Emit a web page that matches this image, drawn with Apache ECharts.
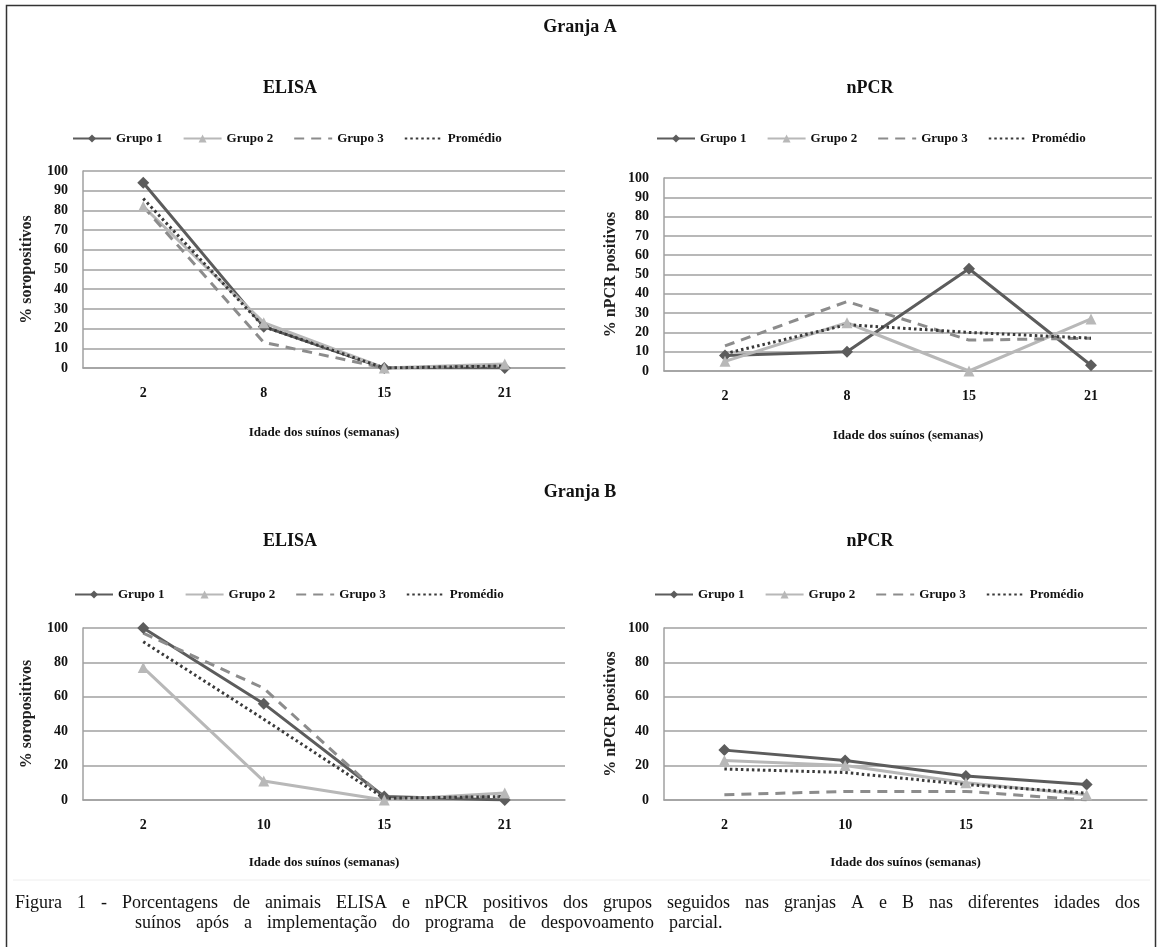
<!DOCTYPE html>
<html>
<head>
<meta charset="utf-8">
<script src="https://cdn.jsdelivr.net/npm/echarts@6/dist/echarts.min.js"></script>
<style>
  html, body { margin: 0; padding: 0; background: #fff; }
  #chart { width: 1161px; height: 947px; }
</style>
</head>
<body>
<div id="chart"></div>
<script>
// categorias (idade dos suínos, semanas)
const weeksA = ['2', '8', '15', '21'];
const weeksB = ['2', '10', '15', '21'];
const groupNames = ['Grupo 1', 'Grupo 2', 'Grupo 3', 'Promédio'];

// Granja A - ELISA
const elisaA_g1 = [94, 21, 0, 0];
const elisaA_g2 = [82, 23, 0, 2];
const elisaA_g3 = [82, 13, 0, 1];
const elisaA_med = [86, 21, 0, 1];
// Granja A - nPCR
const npcrA_g1 = [8, 10, 53, 3];
const npcrA_g2 = [5, 25, 0, 27];
const npcrA_g3 = [13, 36, 16, 17];
const npcrA_med = [9, 24, 20, 17];
// Granja B - ELISA
const elisaB_g1 = [100, 56, 2, 0];
const elisaB_g2 = [77, 11, 0, 4];
const elisaB_g3 = [97, 65, 1, 2];
const elisaB_med = [92, 47, 1, 2];
// Granja B - nPCR
const npcrB_g1 = [29, 23, 14, 9];
const npcrB_g2 = [23, 20, 10, 3];
const npcrB_g3 = [3, 5, 5, 0];
const npcrB_med = [18, 16, 9, 4];

const SERIF = '"Liberation Serif", "Times New Roman", serif';
const GRID_GRAY = '#a0a0a0';

const lineStyles = [
  { color: '#5c5c5c', type: 'solid', symbol: 'diamond', size: 12 },
  { color: '#b8b8b8', type: 'solid', symbol: 'triangle', size: 11 },
  { color: '#8c8c8c', type: [10, 7], symbol: 'none', size: 0 },
  { color: '#3a3a3a', type: [2.5, 3], symbol: 'none', size: 0 }
];

const panels = [
  { cats: weeksA, data: [elisaA_g1, elisaA_g2, elisaA_g3, elisaA_med], yName: '% soropositivos', interval: 10,
    grid: { left: 83, top: 171, width: 482, height: 197 }, legendTop: 127, legendLeft: 67, yNameGap: 48 },
  { cats: weeksA, data: [npcrA_g1, npcrA_g2, npcrA_g3, npcrA_med], yName: '% nPCR positivos', interval: 10,
    grid: { left: 664, top: 178, width: 488, height: 193 }, legendTop: 127, legendLeft: 651, yNameGap: 45 },
  { cats: weeksB, data: [elisaB_g1, elisaB_g2, elisaB_g3, elisaB_med], yName: '% soropositivos', interval: 20,
    grid: { left: 83, top: 628, width: 482, height: 172 }, legendTop: 583, legendLeft: 69, yNameGap: 48 },
  { cats: weeksB, data: [npcrB_g1, npcrB_g2, npcrB_g3, npcrB_med], yName: '% nPCR positivos', interval: 20,
    grid: { left: 664, top: 628, width: 483, height: 172 }, legendTop: 583, legendLeft: 649, yNameGap: 45 }
];

// linhas sem marcador: esconder o símbolo também na legenda
const legendItems = groupNames.map((n, k) =>
  lineStyles[k].symbol === 'none' ? { name: n, itemStyle: { opacity: 0 } } : { name: n });

const grids = [], xAxes = [], yAxes = [], series = [], legends = [];
panels.forEach((p, i) => {
  grids.push(p.grid);
  xAxes.push({
    gridIndex: i, type: 'category', data: p.cats, boundaryGap: true,
    axisLine: { lineStyle: { color: GRID_GRAY, width: 1.5 } },
    axisTick: { show: false },
    axisLabel: { color: '#111', fontFamily: SERIF, fontWeight: 'bold', fontSize: 14, margin: 18 },
    name: 'Idade dos suínos (semanas)', nameLocation: 'middle', nameGap: i < 2 ? 58 : 56,
    nameTextStyle: { color: '#111', fontFamily: SERIF, fontWeight: 'bold', fontSize: 13 }
  });
  yAxes.push({
    gridIndex: i, type: 'value', min: 0, max: 100, interval: p.interval,
    axisLine: { show: true, lineStyle: { color: GRID_GRAY, width: 1.5 } },
    axisTick: { show: false },
    splitLine: { lineStyle: { color: GRID_GRAY, width: 1.5 } },
    axisLabel: { color: '#111', fontFamily: SERIF, fontWeight: 'bold', fontSize: 14, margin: 15 },
    name: p.yName, nameLocation: 'middle', nameRotate: 90, nameGap: p.yNameGap,
    nameTextStyle: { color: '#222', fontFamily: SERIF, fontWeight: 'bold', fontSize: 16 }
  });
  p.data.forEach((vals, k) => {
    const st = lineStyles[k];
    series.push({
      name: groupNames[k], type: 'line', xAxisIndex: i, yAxisIndex: i,
      data: vals, symbol: st.symbol, symbolSize: st.size, showSymbol: st.symbol !== 'none',
      lineStyle: { color: st.color, width: 3, type: st.type },
      itemStyle: { color: st.color },
      emphasis: { disabled: true }, animation: false
    });
  });
  legends.push({
    data: legendItems, left: p.legendLeft, top: p.legendTop,
    itemWidth: 38, itemHeight: 10, itemGap: 20, selectedMode: false,
    textStyle: { color: '#111', fontFamily: SERIF, fontWeight: 'bold', fontSize: 13 }
  });
});

// títulos
const headings = [
  { text: 'Granja A', x: 580, y: 27 },
  { text: 'ELISA', x: 290, y: 88 },
  { text: 'nPCR', x: 870, y: 88 },
  { text: 'Granja B', x: 580, y: 492 },
  { text: 'ELISA', x: 290, y: 541 },
  { text: 'nPCR', x: 870, y: 541 }
];
const graphics = [
  { type: 'rect', shape: { x: 6.5, y: 5.5, width: 1149, height: 960 }, style: { fill: 'none', stroke: '#333', lineWidth: 1.5 }, silent: true },
  { type: 'line', shape: { x1: 13, y1: 880, x2: 1150, y2: 880 }, style: { stroke: '#eeeeee', lineWidth: 1 }, silent: true }
];
headings.forEach(h => graphics.push({
  type: 'text', x: h.x, y: h.y, silent: true,
  style: { text: h.text, font: 'bold 18px ' + SERIF, fill: '#111', textAlign: 'center', textVerticalAlign: 'middle' }
}));

// legenda da figura, justificada
const caption1 = 'Figura 1 - Porcentagens de animais ELISA e nPCR positivos dos grupos seguidos nas granjas A e B nas diferentes idades dos';
const caption2 = 'suínos após a implementação do programa de despovoamento parcial.';
const capFont = '18px ' + SERIF;
const ctx = document.createElement('canvas').getContext('2d');
ctx.font = capFont;
function words(line) { return line.split(' '); }
const w1 = words(caption1);
const total1 = w1.reduce((s, w) => s + ctx.measureText(w).width, 0);
const gap = (1140 - 15 - total1) / (w1.length - 1);
function placeLine(ws, x0, y) {
  let x = x0;
  ws.forEach(w => {
    graphics.push({ type: 'text', x: x, y: y, silent: true,
      style: { text: w, font: capFont, fill: '#111', textAlign: 'left', textVerticalAlign: 'middle' } });
    x += ctx.measureText(w).width + gap;
  });
}
placeLine(w1, 15, 903);
placeLine(words(caption2), 135, 923);

const chart = echarts.init(document.getElementById('chart'), null, { renderer: 'canvas' });
chart.setOption({
  backgroundColor: '#fff',
  animation: false,
  grid: grids,
  xAxis: xAxes,
  yAxis: yAxes,
  legend: legends,
  series: series,
  graphic: graphics
});
</script>
</body>
</html>
